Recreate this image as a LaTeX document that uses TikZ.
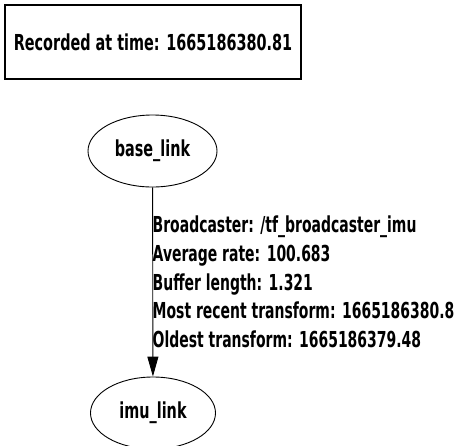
\documentclass[tikz,border=0pt]{standalone}
\usepackage{fontspec}
\usetikzlibrary{arrows.meta,shapes.geometric}
% condensed bold sans used for the texts
\newfontfamily\gvfont[FakeStretch=0.655]{DejaVu Sans}
\newfontfamily\edgefont[FakeStretch=0.635]{DejaVu Sans}
\begin{document}
\begin{tikzpicture}[x=1pt,y=-1pt,
  every node/.style={font=\gvfont\bfseries\fontsize{22}{24}\selectfont},
  frame/.style={draw,line width=1.1pt,minimum width=296pt,minimum height=74pt,inner sep=0pt},
  frameel/.style={draw,ellipse,line width=0.9pt,inner sep=0pt},
  tfedge/.style={line width=0.9pt,-{Triangle[length=20pt,width=11pt]}},
  edgelabel/.style={align=left,inner sep=0pt,anchor=west,
    font=\edgefont\bfseries\fontsize{22}{28.7}\selectfont}]
\useasboundingbox (0,0) rectangle (460,445);
% timestamp box
\node[frame] (stamp) at (153,42) {Recorded at time: 1665186380.81};
% frames
\node[frameel,minimum width=129pt,minimum height=72pt] (base) at (152.5,151) {base\_link};
\node[frameel,minimum width=125pt,minimum height=72pt] (imu) at (153,413) {imu\_link};
% transform
\draw[tfedge] (base) -- (imu)
  node[edgelabel,pos=0.5,xshift=-0.5pt] {Broadcaster: /tf\_broadcaster\_imu\\
Average rate: 100.683\\
Buffer length: 1.321\\
Most recent transform: 1665186380.8\\
Oldest transform: 1665186379.48};
\end{tikzpicture}
\end{document}
